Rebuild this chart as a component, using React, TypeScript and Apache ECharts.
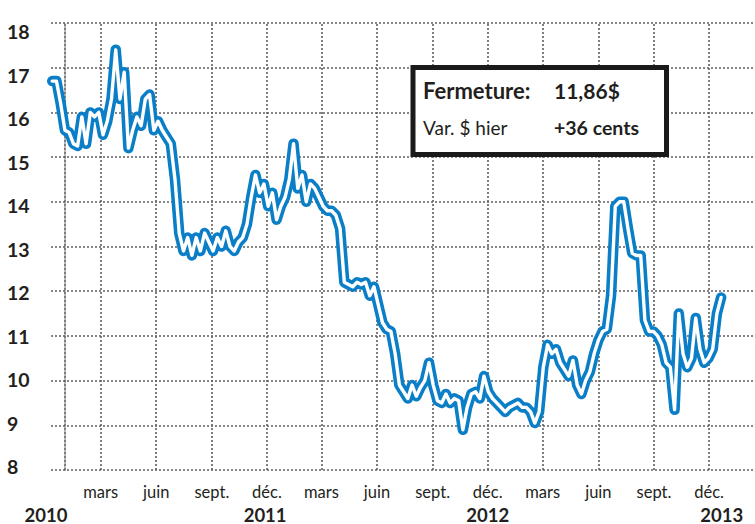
import React, { useEffect, useRef } from "react";
import * as echarts from "echarts";

// Weekly closing prices (days counted from 2010-01-01)
const START_DAY = -21;
const STEP_DAYS = 7;
const prices = [
  16.7, 16.7, 16.2, 15.6, 15.55, 15.3, 15.25, 15.9, 15.3, 16.0,
  15.9, 16.0, 15.5, 15.8, 16.3, 17.4, 16.3, 16.9, 15.2, 15.6,
  15.9, 15.7, 16.3, 16.4, 15.6, 15.8, 15.6, 15.45, 15.3, 14.5,
  13.3, 12.9, 13.2, 12.8, 13.2, 12.9, 13.3, 13.1, 12.9, 13.2,
  13.0, 13.35, 13.0, 12.9, 13.1, 13.2, 13.5, 14.1, 14.6, 14.2,
  14.4, 13.9, 14.2, 13.6, 13.9, 14.1, 14.5, 15.3, 14.3, 14.6,
  14.0, 14.4, 14.3, 14.1, 13.9, 13.8, 13.8, 13.7, 13.4, 12.2,
  12.15, 12.1, 12.2, 12.15, 12.2, 11.9, 12.1, 11.7, 11.3, 11.15,
  11.1, 10.6, 9.9, 9.75, 9.6, 9.9, 9.65, 9.85, 10.0, 10.4,
  9.9, 9.55, 9.5, 9.7, 9.5, 9.6, 9.55, 8.9, 9.4, 9.7,
  9.75, 9.6, 10.1, 9.75, 9.6, 9.5, 9.4, 9.3, 9.4, 9.45,
  9.5, 9.4, 9.4, 9.3, 9.05, 9.3, 10.3, 10.8, 10.6, 10.7,
  10.4, 10.25, 10.1, 10.45, 9.9, 9.7, 10.0, 10.2, 10.6, 10.9,
  11.1, 11.15, 11.9, 13.9, 14.0, 14.0, 13.4, 12.85, 12.8, 12.8,
  11.35, 11.1, 11.1, 11.0, 10.8, 10.4, 10.3, 9.35, 11.5, 10.6,
  10.3, 10.5, 11.4, 10.7, 10.4, 10.5, 10.7, 11.5, 11.86,
];

const monthTickDays = [59, 151, 243, 334, 424, 516, 608, 699, 790, 882, 974, 1065];
const monthLabels = [
  "mars", "juin", "sept.", "déc.",
  "mars", "juin", "sept.", "déc.",
  "mars", "juin", "sept.", "déc.",
];
const yearTickDays = [-23, 331, 699, 1086];
const yearLabels = ["2010", "2011", "2012", "2013"];
const yTicks = [8, 9, 10, 11, 12, 13, 14, 15, 16, 17, 18];

const closeLabel = "Fermeture:";
const closeValue = "11,86$";
const changeLabel = "Var. $ hier";
const changeValue = "+36 cents";

const BLUE = "#0a7ec6";
const GRID = "#5f5f5f";
const TEXT = "#231f20";
const FONT = "Lato, 'Open Sans', sans-serif";

export default function App() {
  const ref = useRef<HTMLDivElement>(null);

  useEffect(() => {
    if (!ref.current) return;
    const chart = echarts.init(ref.current, null, { renderer: "svg" });
    const seriesData = prices.map((p, i) => [START_DAY + i * STEP_DAYS, p]);
    const dotted = { type: [2, 2] as number[], color: GRID, width: 1.6 };

    chart.setOption({
      animation: false,
      backgroundColor: "#ffffff",
      grid: { left: 51, right: 0, top: 23, bottom: 54, containLabel: false },
      xAxis: [
        {
          type: "value",
          position: "bottom",
          min: -23,
          max: 1141,
          axisLine: { show: false },
          axisTick: { show: false },
          splitLine: { show: false },
          axisLabel: {
            customValues: monthTickDays,
            margin: 13,
            color: TEXT,
            fontFamily: FONT,
            fontSize: 16.5,
            formatter: (v: number) => {
              const i = monthTickDays.indexOf(v);
              return i >= 0 ? monthLabels[i] : "";
            },
          },
        },
        {
          type: "value",
          position: "bottom",
          min: -23,
          max: 1141,
          axisLine: { show: false },
          axisTick: { show: false },
          splitLine: { show: false },
          axisLabel: {
            customValues: yearTickDays,
            margin: 35,
            color: TEXT,
            fontFamily: FONT,
            fontSize: 18.5,
            fontWeight: "bold",
            formatter: (v: number) => {
              const i = yearTickDays.indexOf(v);
              if (i < 0) return "";
              return i === 0 ? "{first|" + yearLabels[i] + "}" : yearLabels[i];
            },
            rich: {
              first: {
                color: TEXT,
                fontFamily: FONT,
                fontSize: 18.5,
                fontWeight: "bold",
                padding: [0, 10, 0, 0],
              },
            },
          },
        },
      ],
      yAxis: [
        {
          type: "value",
          position: "left",
          min: 8,
          max: 18,
          interval: 1,
          axisLine: { show: true, lineStyle: dotted },
          axisTick: { show: false },
          axisLabel: { show: false },
          splitLine: { show: true, lineStyle: dotted },
        },
        {
          type: "value",
          position: "left",
          min: 7.924,
          max: 18.207,
          axisLine: { show: false },
          axisTick: { show: false },
          splitLine: { show: false },
          axisLabel: {
            customValues: yTicks,
            align: "left",
            margin: 44,
            color: TEXT,
            fontFamily: FONT,
            fontSize: 19.5,
            fontWeight: "bold",
          },
        },
      ],
      series: [
        {
          type: "line",
          xAxisIndex: 0,
          yAxisIndex: 0,
          data: seriesData,
          showSymbol: false,
          symbol: "none",
          z: 3,
          lineStyle: { color: BLUE, width: 10.5, join: "round", cap: "round" },
          markLine: {
            silent: true,
            z: 1,
            symbol: ["none", "none"],
            label: { show: false },
            lineStyle: dotted,
            data: monthTickDays.map((d) => ({ xAxis: d })),
          },
        },
        {
          type: "line",
          xAxisIndex: 0,
          yAxisIndex: 0,
          data: seriesData,
          showSymbol: false,
          symbol: "none",
          z: 4,
          lineStyle: { color: "#ffffff", width: 3.4, join: "round", cap: "round" },
        },
      ],
      graphic: [
        {
          type: "rect",
          z: 10,
          shape: { x: 413, y: 67.5, width: 253.5, height: 87 },
          style: { fill: "#ffffff", stroke: "#1a1a1a", lineWidth: 5 },
        },
        {
          type: "text",
          z: 11,
          x: 423,
          y: 90,
          style: {
            text: closeLabel,
            fill: TEXT,
            font: "bold 22px " + FONT,
            verticalAlign: "middle",
          },
        },
        {
          type: "text",
          z: 11,
          x: 554,
          y: 90,
          style: {
            text: closeValue,
            fill: TEXT,
            font: "bold 21px " + FONT,
            verticalAlign: "middle",
          },
        },
        {
          type: "text",
          z: 11,
          x: 423,
          y: 127,
          style: {
            text: changeLabel,
            fill: TEXT,
            font: "19px " + FONT,
            verticalAlign: "middle",
          },
        },
        {
          type: "text",
          z: 11,
          x: 554,
          y: 127,
          style: {
            text: changeValue,
            fill: TEXT,
            font: "bold 19.5px " + FONT,
            verticalAlign: "middle",
          },
        },
      ],
    });
    return () => chart.dispose();
  }, []);

  return (
    <div
      ref={ref}
      style={{ position: "fixed", left: 0, top: 0, width: 755, height: 524 }}
    />
  );
}
